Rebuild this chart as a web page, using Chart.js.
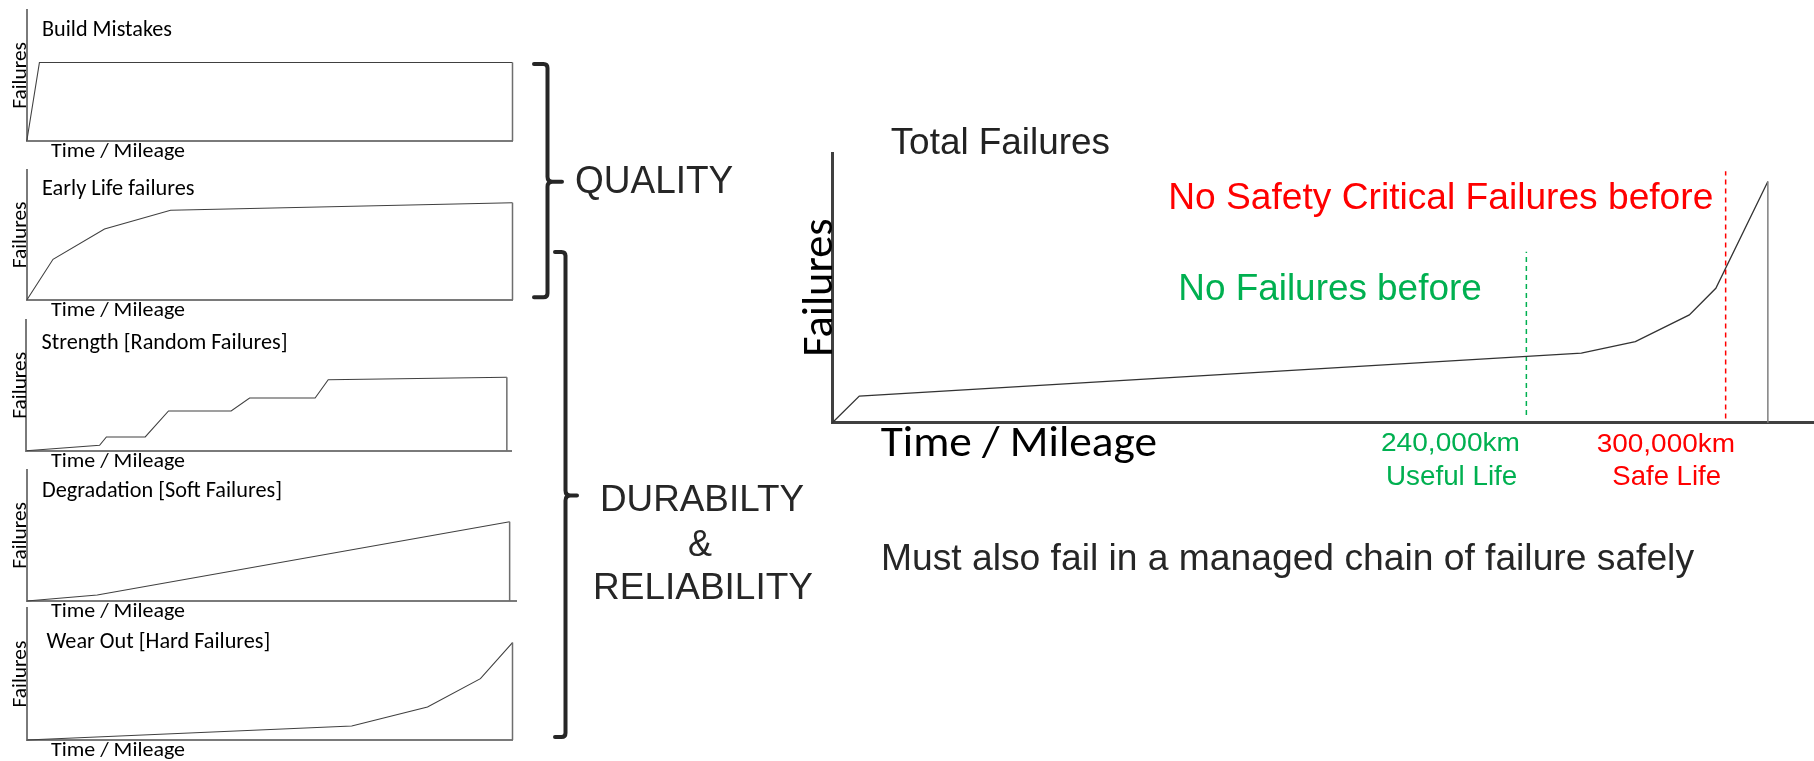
<!DOCTYPE html>
<html><head><meta charset="utf-8">
<script src="https://cdn.jsdelivr.net/npm/chart.js@4.4.1/dist/chart.umd.min.js"></script>
<style>
html,body{margin:0;padding:0;background:#fff;overflow:hidden}
#stage{position:relative;width:1814px;height:761px;background:#fff;overflow:hidden}
#stage canvas{position:absolute}
#overlay{position:absolute;left:0;top:0;pointer-events:none}
</style></head><body>
<div id="stage"></div>
<script>
// ---------------- data (arbitrary units: Time/Mileage 0-100 along each axis, Failures 0-100 of axis height) -------------
const buildX    = [0, 2.6, 100, 100];
const buildY    = [0, 59.9, 59.9, 0];
const earlyX    = [0, 5.4, 16.0, 29.6, 100, 100];
const earlyY    = [0, 31.3, 54.6, 69.0, 74.8, 0];
const strengthX = [0, 15.1, 16.5, 24.5, 29.3, 42.2, 46.0, 59.5, 62.2, 99.0, 99.0];
const strengthY = [0, 4.1, 10.5, 10.5, 30.4, 30.4, 40.3, 40.3, 54.3, 56.2, 0];
const degradX   = [0, 14.4, 98.7, 98.7];
const degradY   = [0, 4.6, 60.5, 0];
const wearX     = [0, 66.9, 82.5, 93.4, 100, 100];
const wearY     = [0, 10.6, 25.1, 46.6, 74.0, 0];
const totalX    = [0, 2.75, 76.3, 81.8, 87.3, 90.0, 95.3, 95.3];
const totalY    = [0, 9.9, 25.8, 30.1, 40.0, 49.9, 89.5, 0];
const usefulLifeX = [70.7, 70.7];
const usefulLifeY = [2.9, 63.5];
const safeLifeX   = [91.0, 91.0];
const safeLifeY   = [1.6, 93.3];

const smallTitles = ['Build Mistakes', 'Early Life failures', 'Strength [Random Failures]',
                     'Degradation [Soft Failures]', 'Wear Out [Hard Failures]'];
const xAxisLabel = 'Time / Mileage';
const yAxisLabel = 'Failures';
const mainTitle = 'Total Failures';
const markerKm = ['240,000km', '300,000km'];
const markerNames = ['Useful Life', 'Safe Life'];
const markerNotes = ['No Failures before', 'No Safety Critical Failures before'];
const groupLabels = ['QUALITY', 'DURABILTY', '&', 'RELIABILITY'];
const footNote = 'Must also fail in a managed chain of failure safely';

// ---------------- layout / styling ----------------
const stage = document.getElementById('stage');
const GREEN = '#00b050', RED = '#ff0000', INK = '#262626';
const SANS = "'Liberation Sans', Arial, Helvetica, sans-serif";
const CAL = "Carlito, Calibri, Lato, 'Open Sans', sans-serif";

function pts(xs, ys) { return xs.map((x, i) => ({x: x, y: ys[i]})); }

function addChart(box, datasets, axis) {
  const m = 6;
  const cl = Math.floor(box.l) - m, ct = Math.floor(box.t) - m;
  const cr = Math.ceil(box.r) + m, cb = Math.ceil(box.b) + m;
  const cv = document.createElement('canvas');
  cv.width = cr - cl; cv.height = cb - ct;
  cv.style.left = cl + 'px'; cv.style.top = ct + 'px';
  cv.style.width = (cr - cl) + 'px'; cv.style.height = (cb - ct) + 'px';
  stage.appendChild(cv);
  const sc = {
    type: 'linear', min: 0, max: 100,
    grid: {display: false, drawTicks: false},
    ticks: {display: false},
    border: {display: true, color: axis.color, width: axis.width}
  };
  new Chart(cv, {
    type: 'line',
    data: {datasets: datasets},
    options: {
      responsive: false, maintainAspectRatio: false, animation: false, devicePixelRatio: 1,
      events: [],
      layout: {padding: {left: box.l - cl, top: box.t - ct, right: cr - box.r, bottom: cb - box.b}},
      plugins: {legend: {display: false}, tooltip: {enabled: false}, title: {display: false}},
      elements: {point: {radius: 0}, line: {tension: 0}},
      scales: {x: Object.assign({}, sc), y: Object.assign({}, sc)}
    }
  });
}

function curve(xs, ys, color, width, dropColor) {
  const last = xs.length - 1;
  const ds = {data: pts(xs, ys), borderColor: color, borderWidth: width, pointRadius: 0,
              fill: false, clip: false, borderJoinStyle: 'miter'};
  if (dropColor) ds.segment = {borderColor: c => c.p1DataIndex === last ? dropColor : undefined,
                               borderWidth: c => c.p1DataIndex === last ? 1.5 : undefined};
  return ds;
}

const smallAxis = {color: '#7a7a7a', width: 2};
const smallLine = '#404040';
const smallBoxes = [
  {l: 26.8, t: 10,    r: 512.5, b: 141},
  {l: 26.8, t: 170,   r: 512.5, b: 300},
  {l: 26.3, t: 320,   r: 511.7, b: 450.7},
  {l: 26.8, t: 470,   r: 516,   b: 601},
  {l: 26.8, t: 608.3, r: 512.5, b: 740}
];
const smallSeries = [[buildX, buildY], [earlyX, earlyY], [strengthX, strengthY], [degradX, degradY], [wearX, wearY]];
smallSeries.forEach((s, i) => addChart(smallBoxes[i], [curve(s[0], s[1], smallLine, 1.1, '#6e6e6e')], smallAxis));

const mainBox = {l: 832.3, t: 153.3, r: 1814, b: 422.7};
addChart(mainBox, [
  curve(totalX, totalY, '#333333', 1.3, '#808080'),
  {data: pts(usefulLifeX, usefulLifeY), borderColor: GREEN, borderWidth: 1.5, borderDash: [5, 4], pointRadius: 0, fill: false, clip: false},
  {data: pts(safeLifeX, safeLifeY), borderColor: RED, borderWidth: 1.5, borderDash: [5, 4], pointRadius: 0, fill: false, clip: false}
], {color: '#404040', width: 3});

// ---------------- overlay: brackets + text ----------------
const NS = 'http://www.w3.org/2000/svg';
const svg = document.createElementNS(NS, 'svg');
svg.setAttribute('id', 'overlay');
svg.setAttribute('width', 1814); svg.setAttribute('height', 761);
stage.appendChild(svg);

function path(d) {
  const p = document.createElementNS(NS, 'path');
  p.setAttribute('d', d);
  p.setAttribute('fill', 'none'); p.setAttribute('stroke', INK);
  p.setAttribute('stroke-width', 4); p.setAttribute('stroke-linecap', 'round'); p.setAttribute('stroke-linejoin', 'round');
  svg.appendChild(p);
}
function bracket(x, top, bot, mid, hookL, tickR) {
  path(`M ${hookL} ${top} L ${x - 4} ${top} Q ${x} ${top} ${x} ${top + 4} L ${x} ${mid - 5} Q ${x} ${mid} ${x + 5} ${mid} L ${tickR} ${mid}` +
       ` M ${x + 5} ${mid} Q ${x} ${mid} ${x} ${mid + 5} L ${x} ${bot - 4} Q ${x} ${bot} ${x - 4} ${bot} L ${hookL} ${bot}`);
}
bracket(547.5, 64, 297.3, 181.7, 534, 562);
bracket(565.5, 252, 737, 495.5, 555, 577);

function text(t, x, y, size, w, color, font, opts) {
  opts = opts || {};
  const e = document.createElementNS(NS, 'text');
  e.textContent = t;
  e.setAttribute('x', x); e.setAttribute('y', y);
  e.setAttribute('fill', color);
  e.setAttribute('style', `font-family:${font};font-size:${size}px`);
  if (w) { e.setAttribute('textLength', w); e.setAttribute('lengthAdjust', 'spacingAndGlyphs'); }
  if (opts.anchor) e.setAttribute('text-anchor', opts.anchor);
  if (opts.rot) e.setAttribute('transform', `rotate(-90 ${x} ${y})`);
  svg.appendChild(e);
}

// small charts: titles, x labels, rotated y labels
const titleSpec = [[42, 35.7, 130], [42, 195, 152.6], [41.5, 349.3, 246], [42, 496.7, 240], [46.4, 648.3, 224]];
smallTitles.forEach((t, i) => text(t, titleSpec[i][0], titleSpec[i][1], 22, titleSpec[i][2], '#000', CAL));
smallBoxes.forEach(b => {
  text(xAxisLabel, 51, b.b + 16, 21, 134, '#000', CAL);
  const c = (b.t + b.b) / 2;
  text(yAxisLabel, 26.3, c + 33.3, 21, 66.7, '#000', CAL, {rot: true});
});

// main chart
text(mainTitle, 890.7, 153.5, 36, 219.3, '#222', SANS);
text(markerNotes[1], 1168.3, 209.3, 36.5, 545, RED, SANS);
text(markerNotes[0], 1178.3, 300, 36.5, 303.4, GREEN, SANS);
text(xAxisLabel, 880.7, 456, 44, 276.3, '#000', CAL);
text(yAxisLabel, 832, 356.7, 44, 138.4, '#000', CAL, {rot: true});
text(markerKm[0], 1381, 451, 26, 139, GREEN, SANS);
text(markerNames[0], 1386, 485, 27.5, 131.3, GREEN, SANS);
text(markerKm[1], 1596.7, 452, 26, 138.3, RED, SANS);
text(markerNames[1], 1612.3, 485, 27.5, 108.7, RED, SANS);
text(footNote, 881, 570, 36, 813, INK, SANS);

// group labels
text(groupLabels[0], 575, 193.3, 38, 158.3, INK, SANS);
text(groupLabels[1], 600, 510.6, 36, 204, INK, SANS);
text(groupLabels[2], 700, 556, 36, 0, INK, SANS, {anchor: 'middle'});
text(groupLabels[3], 593, 598.5, 36, 220, INK, SANS);
</script>
</body></html>
